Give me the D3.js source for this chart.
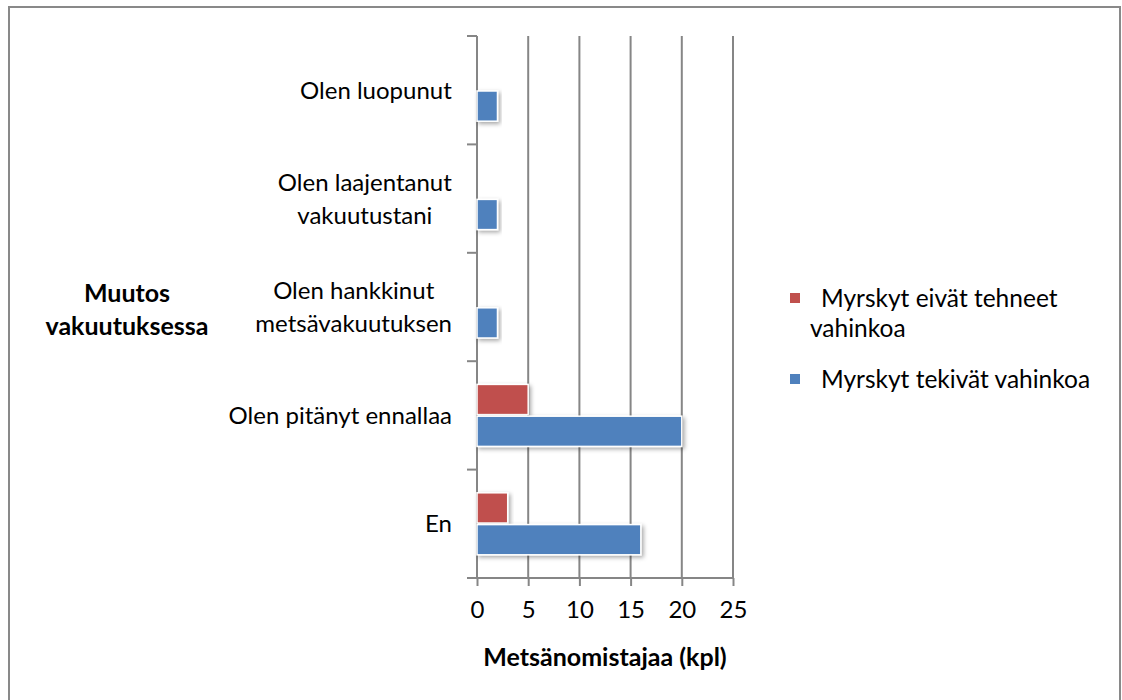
<!DOCTYPE html>
<html>
<head>
<meta charset="utf-8">
<script src="https://cdn.jsdelivr.net/npm/d3@7"></script>
<style>
  body { margin: 0; background: #fff; }
  text { font-family: Lato, "Open Sans", sans-serif; fill: #000; }
</style>
</head>
<body>
<svg id="chart" width="1122" height="700"></svg>
<script>
// categories top to bottom, each label split into lines
var categories = ["Olen luopunut", "Olen laajentanut vakuutustani", "Olen hankkinut metsävakuutuksen", "Olen pitänyt ennallaa", "En"];
var categoryLines = [["Olen luopunut"], ["Olen laajentanut", "vakuutustani"], ["Olen hankkinut", "metsävakuutuksen"], ["Olen pitänyt ennallaa"], ["En"]];
var seriesNames = ["Myrskyt eivät tehneet vahinkoa", "Myrskyt tekivät vahinkoa"];
var legendLines = [["Myrskyt eivät tehneet", "vahinkoa"], ["Myrskyt tekivät vahinkoa"]];
var noDamage = [0, 0, 0, 5, 3];
var damage = [2, 2, 2, 20, 16];
var xTicks = [0, 5, 10, 15, 20, 25];
var colors = ["#C0504D", "#4F81BD"];

var svg = d3.select("#chart");

var margin = {top: 36, left: 477, right: 389, bottom: 122},
    width = 1122 - margin.left - margin.right,
    height = 700 - margin.top - margin.bottom;

// outer frame
svg.append("rect")
  .attr("x", 9).attr("y", 7).attr("width", 1111).attr("height", 700)
  .attr("fill", "none").attr("stroke", "#898989").attr("stroke-width", 2);

var defs = svg.append("defs");
var f = defs.append("filter").attr("id", "shadow")
  .attr("x", "-10%").attr("y", "-20%").attr("width", "130%").attr("height", "160%");
f.append("feDropShadow").attr("dx", 2).attr("dy", 2).attr("stdDeviation", 2)
  .attr("flood-color", "#000").attr("flood-opacity", 0.35);

var g = svg.append("g").attr("transform", "translate(" + margin.left + "," + margin.top + ")");

var x = d3.scaleLinear().domain([0, 25]).range([0, width]);
var y0 = d3.scaleBand().domain(categories).range([0, height]);
var bw = y0.bandwidth();
var y1 = d3.scaleBand().domain(seriesNames)
  .range([bw / 2 - 31, bw / 2 + 31]).paddingInner(0.05);

// gridlines
g.append("g")
  .selectAll("line").data(xTicks.slice(1)).enter().append("line")
  .attr("x1", function(d) { return x(d); }).attr("x2", function(d) { return x(d); })
  .attr("y1", 0).attr("y2", height)
  .attr("stroke", "#868686").attr("stroke-width", 2);

// category axis (left)
var yAxis = d3.axisLeft(y0).tickSize(0).tickFormat("");
var ya = g.append("g").call(yAxis);
ya.select(".domain").attr("stroke", "#868686").attr("stroke-width", 2).attr("d", "M0,0V" + height);
var boundaries = d3.range(categories.length + 1).map(function(i) { return i * bw; });
ya.selectAll(".bound").data(boundaries).enter().append("line")
  .attr("class", "bound")
  .attr("x1", -10).attr("x2", 0)
  .attr("y1", function(d) { return d; }).attr("y2", function(d) { return d; })
  .attr("stroke", "#868686").attr("stroke-width", 2);

// category labels, centred lines, block right-aligned
categories.forEach(function(c, i) {
  var lines = categoryLines[i];
  var cy = y0(c) + bw / 2;
  var lh = 33;
  var t = g.append("text")
    .style("font-size", "24px")
    .attr("text-anchor", "middle");
  lines.forEach(function(l, j) {
    t.append("tspan").attr("x", 0)
      .attr("y", cy + (j - (lines.length - 1) / 2) * lh)
      .attr("dy", "0.35em").text(l);
  });
  var w = t.node().getBBox().width;
  t.selectAll("tspan").attr("x", -25 - w / 2);
});

// value axis (bottom)
var xAxis = d3.axisBottom(x).tickValues(xTicks).tickSize(8).tickPadding(15);
var xa = g.append("g").attr("transform", "translate(0," + height + ")").call(xAxis);
xa.select(".domain").attr("stroke", "#868686").attr("stroke-width", 2).attr("d", "M-10,0H" + width);
xa.selectAll(".tick line").attr("stroke", "#868686").attr("stroke-width", 2);
xa.selectAll(".tick text").style("font-size", "24px").style("font-family", "Lato, sans-serif").attr("fill", "#000");

// axis titles
g.append("text")
  .attr("x", width / 2).attr("y", height + 79)
  .attr("dy", "0.35em")
  .attr("text-anchor", "middle")
  .style("font-size", "25px").style("font-weight", "bold")
  .text("Metsänomistajaa (kpl)");

var yt = svg.append("text")
  .attr("text-anchor", "middle")
  .style("font-size", "25px").style("font-weight", "bold");
["Muutos", "vakuutuksessa"].forEach(function(l, j) {
  yt.append("tspan").attr("x", 127).attr("y", 293 + j * 33).attr("dy", "0.35em").text(l);
});

// bars
var seriesData = [noDamage, damage];
seriesData.forEach(function(vals, si) {
  var rows = vals.map(function(v, i) { return {cat: categories[i], value: v}; })
    .filter(function(d) { return d.value > 0; });
  g.append("g").selectAll("rect").data(rows).enter()
    .append("rect")
    .attr("x", x(0))
    .attr("y", function(d) { return y0(d.cat) + y1(seriesNames[si]); })
    .attr("width", function(d) { return x(d.value) - x(0); })
    .attr("height", y1.bandwidth())
    .attr("fill", colors[si])
    .attr("stroke", "#fff").attr("stroke-width", 1.5)
    .attr("filter", "url(#shadow)");
});

// legend
var legendY = [298, 379];
seriesNames.forEach(function(s, i) {
  var lg = svg.append("g");
  lg.append("rect")
    .attr("x", 790).attr("y", legendY[i] - 5).attr("width", 10).attr("height", 10)
    .attr("fill", colors[i]);
  var t = lg.append("text").style("font-size", "24.5px");
  legendLines[i].forEach(function(l, j) {
    t.append("tspan").attr("x", j === 0 ? 821 : 810)
      .attr("y", legendY[i] + j * 30).attr("dy", "0.35em").text(l);
  });
});
</script>
</body>
</html>
